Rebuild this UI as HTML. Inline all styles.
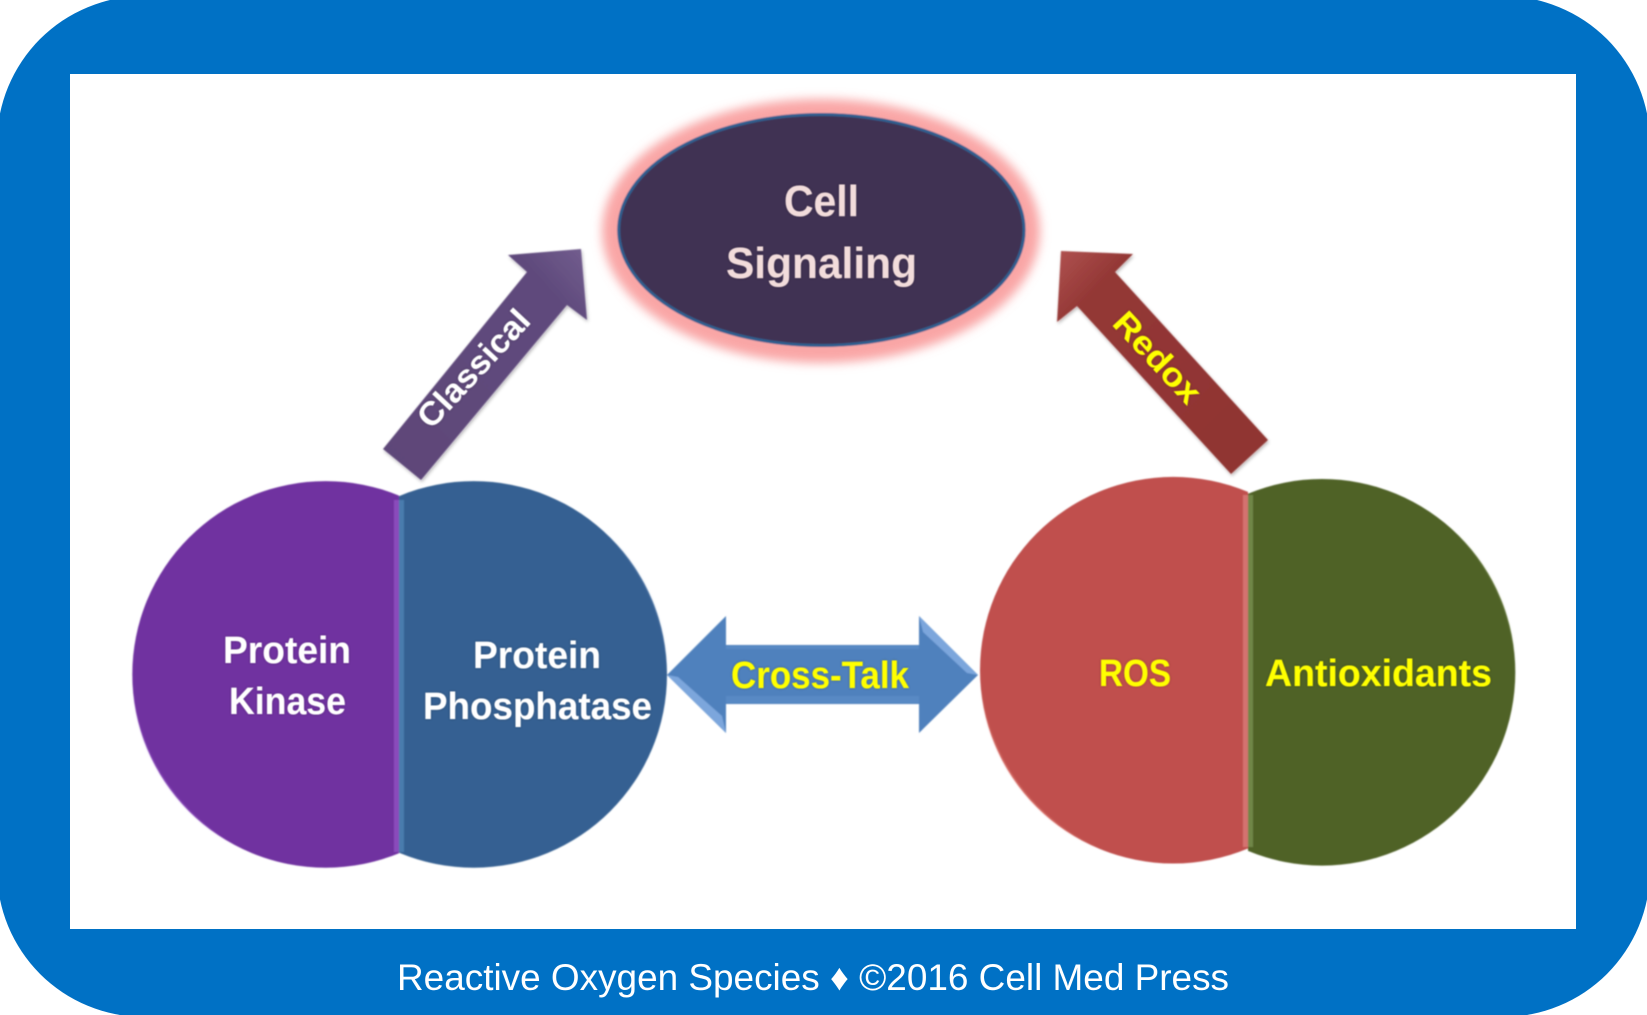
<!DOCTYPE html>
<html lang="en">
<head>
<meta charset="utf-8">
<title>Reactive Oxygen Species - Cell Signaling</title>
<style>
html,body{margin:0;padding:0;background:#fff;}
svg{display:block;}
text{font-family:"Liberation Sans",sans-serif;font-weight:bold;}
</style>
</head>
<body>
<svg xmlns="http://www.w3.org/2000/svg" width="1647" height="1015" viewBox="0 0 1647 1015">
<defs>
<filter id="soft" x="-5%" y="-5%" width="110%" height="110%"><feGaussianBlur stdDeviation="0.8"/></filter>
<filter id="soft2" x="-20%" y="-20%" width="140%" height="140%"><feGaussianBlur stdDeviation="0.9"/></filter>
<filter id="glow" x="-20%" y="-30%" width="140%" height="160%"><feGaussianBlur stdDeviation="5"/></filter>
<filter id="shadow" x="-20%" y="-20%" width="140%" height="140%"><feDropShadow dx="1" dy="2" stdDeviation="1.5" flood-color="#000" flood-opacity="0.28"/></filter>
<filter id="halo" x="-10%" y="-30%" width="120%" height="160%"><feGaussianBlur in="SourceGraphic" stdDeviation="0.5" result="b"/><feDropShadow in="b" dx="0" dy="0" stdDeviation="1" flood-color="#222" flood-opacity="0.4"/></filter>
<linearGradient id="purpleArrow" x1="0" y1="1" x2="1" y2="0"><stop offset="0" stop-color="#5d4678"/><stop offset="0.82" stop-color="#5f4a7c"/><stop offset="1" stop-color="#735e8f"/></linearGradient>
<linearGradient id="redArrow" x1="1" y1="1" x2="0" y2="0"><stop offset="0" stop-color="#8f3432"/><stop offset="0.82" stop-color="#933735"/><stop offset="1" stop-color="#b05250"/></linearGradient>
<clipPath id="clip-left-a"><rect x="0" y="400" width="399" height="600"/></clipPath>
<clipPath id="clip-left-b"><rect x="399" y="400" width="400" height="600"/></clipPath>
<clipPath id="clip-right-a"><rect x="900" y="400" width="348" height="600"/></clipPath>
<clipPath id="clip-right-b"><rect x="1248" y="400" width="400" height="600"/></clipPath>
</defs>

<rect x="-3" y="-4" width="1653" height="1021" rx="147" ry="147" fill="#0071c5"/>
<rect x="70" y="74" width="1506" height="855" fill="#ffffff"/>

<g filter="url(#soft)">
<ellipse cx="821" cy="231" rx="219" ry="132" fill="#f9a6a6" filter="url(#glow)"/>
<ellipse cx="821.4" cy="230" rx="202.7" ry="115.5" fill="#403152" stroke="#2f5f8f" stroke-width="3"/>

<polygon filter="url(#shadow)" fill="url(#purpleArrow)" points="508,255 581,249 587,320 567,305 421,480 383,449 527,272"/>
<polygon filter="url(#shadow)" fill="url(#redArrow)" points="1061,251 1133,254 1115,272 1268,440 1231,474 1077,306 1057,322"/>

<g clip-path="url(#clip-left-a)">
<circle cx="325.6" cy="674.4" r="193.3" fill="#7030a0"/>
<path d="M133 691 A193.3 193.3 0 0 0 244 849.6 A198 198 0 0 1 133 691 Z" fill="#a46ad8" filter="url(#soft2)"/>
<rect x="394" y="500" width="5" height="352" fill="#8a4bbb"/>
</g>
<g clip-path="url(#clip-left-b)">
<circle cx="473.7" cy="674.4" r="193.3" fill="#366092"/>
<path d="M598 526.3 A193.3 193.3 0 0 1 666.7 664 A198 198 0 0 0 598 526.3 Z" fill="#7ba0cc" filter="url(#soft2)"/>
<rect x="399" y="500" width="5" height="352" fill="#4a7cad"/>
</g>

<g clip-path="url(#clip-right-a)">
<circle cx="1173.3" cy="670.2" r="193.3" fill="#c0504d"/>
<path d="M980.7 687 A193.3 193.3 0 0 0 1107.2 851.8 A198 198 0 0 1 980.7 687 Z" fill="#f09088" filter="url(#soft2)"/>
<rect x="1243" y="495" width="5" height="352" fill="#d4726f"/>
</g>
<g clip-path="url(#clip-right-b)">
<circle cx="1322" cy="672.3" r="193.3" fill="#4f6228"/>
<path d="M1446.3 524.2 A193.3 193.3 0 0 1 1515 662 A198 198 0 0 0 1446.3 524.2 Z" fill="#98ac68" filter="url(#soft2)"/>
<rect x="1248" y="495" width="5" height="352" fill="#6f8647"/>
</g>

<polygon fill="#4f81bd" points="667,675 726,616 726,645 919,645 919,616 978,675 919,733 919,704 726,704 726,733"/>
<rect x="726" y="646" width="193" height="3" fill="#5d8dc8" opacity="0.7"/>
<rect x="726" y="696" width="193" height="7" fill="#5d8dc8" opacity="0.7"/>
<polygon fill="#7ba6dc" points="667,675 678,677 722,716 726,733"/>
<polygon fill="#7ba6dc" points="919,616 978,675 967,673 923,632"/>
</g>

<g filter="url(#halo)">
<text x="784" y="216" font-size="44" fill="#f2dcdb" textLength="75" lengthAdjust="spacingAndGlyphs">Cell</text>
<text x="726" y="278" font-size="44" fill="#f2dcdb" textLength="191" lengthAdjust="spacingAndGlyphs">Signaling</text>
<text x="223" y="663" font-size="38" fill="#ffffff" textLength="128" lengthAdjust="spacingAndGlyphs">Protein</text>
<text x="229" y="714" font-size="38" fill="#ffffff" textLength="117" lengthAdjust="spacingAndGlyphs">Kinase</text>
<text x="473" y="668" font-size="38" fill="#ffffff" textLength="128" lengthAdjust="spacingAndGlyphs">Protein</text>
<text x="423" y="719" font-size="38" fill="#ffffff" textLength="229" lengthAdjust="spacingAndGlyphs">Phosphatase</text>
<text x="731" y="688" font-size="38" fill="#ffff00" textLength="178" lengthAdjust="spacingAndGlyphs">Cross-Talk</text>
<text x="1099" y="686" font-size="38" fill="#ffff00" textLength="72" lengthAdjust="spacingAndGlyphs">ROS</text>
<text x="1265" y="686" font-size="38" fill="#ffff00" textLength="227" lengthAdjust="spacingAndGlyphs">Antioxidants</text>
<text transform="translate(473 368) rotate(-47)" x="-74" y="12" font-size="33" fill="#ffffff" textLength="148" lengthAdjust="spacingAndGlyphs">Classical</text>
<text transform="translate(1158 357) rotate(47)" x="-56" y="12" font-size="33" fill="#ffff00" textLength="112" lengthAdjust="spacingAndGlyphs">Redox</text>
</g>

<text x="397" y="990" font-size="37" fill="#ffffff" style="font-weight:normal" textLength="832" lengthAdjust="spacingAndGlyphs">Reactive Oxygen Species ♦ ©2016 Cell Med Press</text>
</svg>
</body>
</html>
